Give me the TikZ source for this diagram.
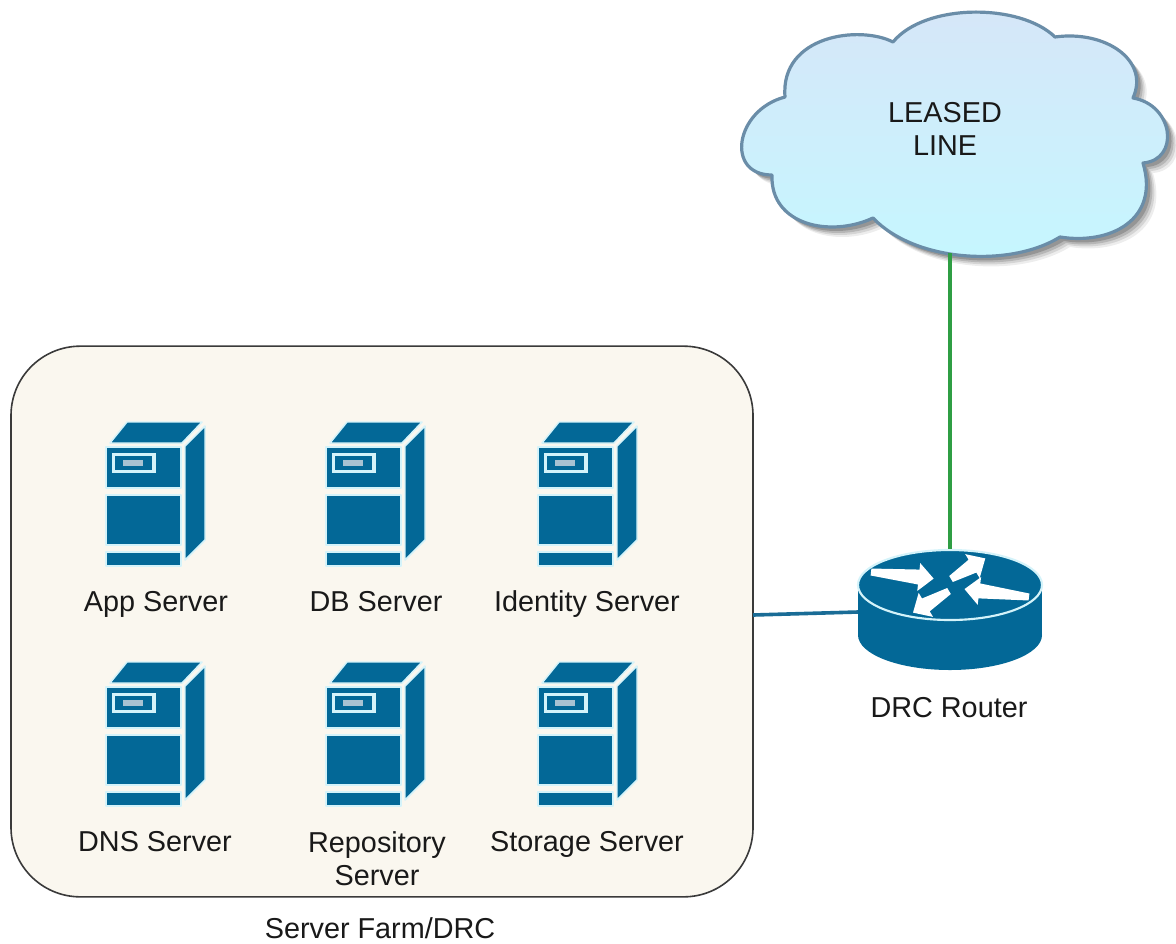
\documentclass[tikz,border=0pt]{standalone}
\usepackage{fontspec}
\setmainfont{Liberation Sans}
\definecolor{ciscoblue}{HTML}{036897}
\definecolor{halo}{HTML}{D4F3FA}
\definecolor{farmfill}{HTML}{FAF7EF}
\definecolor{farmline}{HTML}{3A3A3A}
\definecolor{cloudline}{HTML}{6A8DA8}
\definecolor{cloudtop}{HTML}{D6E6F8}
\definecolor{cloudbottom}{HTML}{C5F7FF}
\definecolor{linkgreen}{HTML}{2F9E44}
\definecolor{linkblue}{HTML}{1A6C96}
\definecolor{slotgrey}{HTML}{A8C2D2}
\newcommand{\cloudoutline}{(893,42) .. controls (925,3) and (1020,3) .. (1055,37)
  .. controls (1105,30) and (1150,60) .. (1133,98)
  .. controls (1174,105) and (1180,160) .. (1143,163)
  .. controls (1160,220) and (1110,245) .. (1060,237)
  .. controls (1010,268) and (915,262) .. (873,218)
  .. controls (830,238) and (770,225) .. (772,175)
  .. controls (725,175) and (735,110) .. (785,97)
  .. controls (780,35) and (860,25) .. (893,42) -- cycle}
\tikzset{
  x=0.75pt, y=-0.75pt,
  lbl/.style={font=\fontsize{21.6pt}{24.75pt}\selectfont, text=black!90, inner sep=0pt, align=center},
  sl/.style={lbl, anchor=base},
  ghost/.style={inner sep=0pt, outer sep=0pt},
  iconpart/.style={fill=ciscoblue, draw=halo, line width=1.1pt, line join=round},
  link/.style={line width=2.7pt},
  server/.pic={
    \path[iconpart] (4,22) -- (21,1) -- (96,1) -- (76,22) -- cycle;
    \path[iconpart] (0,26) rectangle (75,67);
    \path[iconpart] (0,74) rectangle (75,124);
    \path[iconpart] (0,131) rectangle (75,145);
    \path[iconpart] (79,25) -- (99,5) -- (99,119) -- (79,139) -- cycle;
    \draw[halo, line width=2.6pt] (7.5,33.5) rectangle (48,50.5);
    \fill[slotgrey] (17,39) rectangle (37,45);
  }
}
\begin{document}
\begin{tikzpicture}
\useasboundingbox (0,0) rectangle (1176,943);
\fill[white] (0,0) rectangle (1176,943);

% server farm container
\node[ghost, draw=farmline, fill=farmfill, line width=1.2pt, rounded corners=52pt,
      minimum width=556.5pt, minimum height=413pt] (farm) at (382,621.5) {};

% cloud
\foreach \d/\o in {10/0.07,8/0.10,6/0.14,4/0.18}{
  \begin{scope}[shift={(\d,\d)}]
    \fill[black, opacity=\o] \cloudoutline;
  \end{scope}
}
\shade[top color=cloudtop, bottom color=cloudbottom] \cloudoutline;
\draw[cloudline, line width=2.4pt, line join=round] \cloudoutline;
\node[ghost, minimum width=321pt, minimum height=181.5pt] (cloud) at (950,132) {};
\node[lbl] (cloudtext) at (945,129) {LEASED\\LINE};

% router
\node[ghost, minimum width=138pt, minimum height=94.5pt] (router) at (950,612) {};
\fill[ciscoblue] (950,635) ellipse [x radius=92, y radius=35];
\fill[ciscoblue] (858,585) rectangle (1042,635);
\fill[ciscoblue, draw=halo, line width=1.6pt] (950,585) ellipse [x radius=92, y radius=35];
\foreach \ax/\ay/\ang/\len in {871/572/-6/63, 951/579/31/40, 1029/597/173/65, 949/591/211/42}{
  \begin{scope}[shift={(\ax,\ay)}, rotate=\ang]
    \pgfmathsetmacro{\hb}{\len-15}
    \fill[white] (0,-3.5) -- (\hb,-7.5) -- (\hb,-14) -- (\len,0) -- (\hb,14) -- (\hb,7.5) -- (0,3.5) -- cycle;
  \end{scope}
}

% connectors
\coordinate (farmport) at (753,615);
\draw[link, linkgreen] (cloud.south) -- (router.north);
\draw[link, linkblue] (farmport) -- (router.west);

% servers
\pic at (106,421) {server};
\pic at (326,421) {server};
\pic at (538,421) {server};
\pic at (106,661) {server};
\pic at (326,661) {server};
\pic at (538,661) {server};

% labels
\node[sl] (l1) at (156,611) {App Server};
\node[sl] (l2) at (376,611) {DB Server};
\node[sl] (l3) at (587,611) {Identity Server};
\node[sl] (l4) at (155,851) {DNS Server};
\node[lbl] (l5) at (377,859) {Repository\\Server};
\node[sl] (l6) at (587,851) {Storage Server};
\node[sl] (l7) at (949,717) {DRC Router};
\node[sl] (l8) at (380,938) {Server Farm/DRC};
\end{tikzpicture}
\end{document}
